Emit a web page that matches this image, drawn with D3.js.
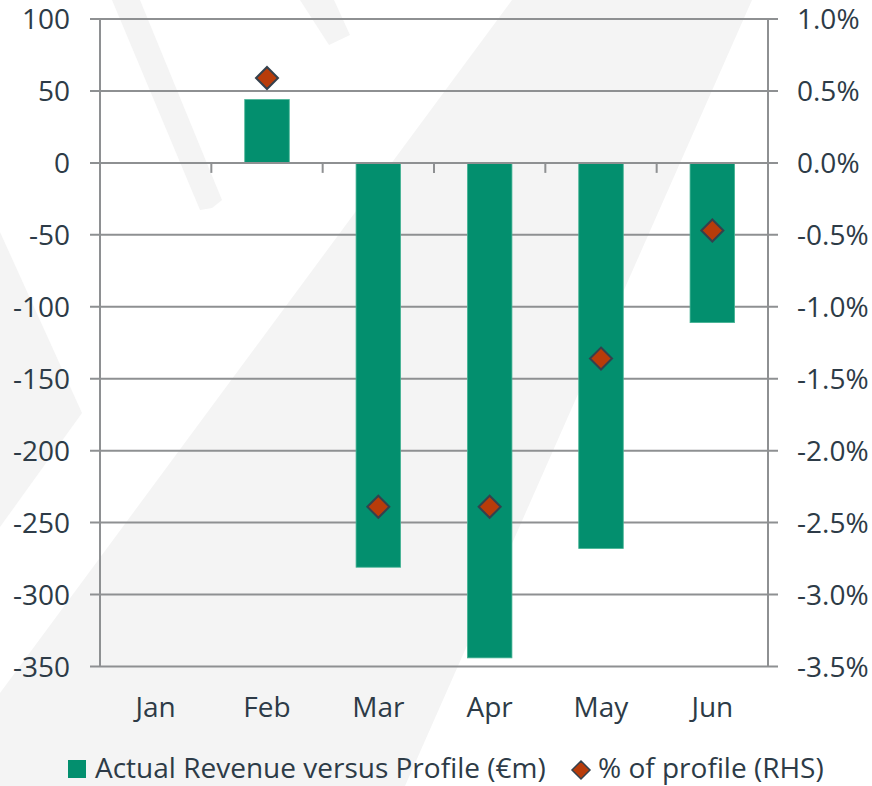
<!DOCTYPE html>
<html>
<head>
<meta charset="utf-8">
<script src="https://cdn.jsdelivr.net/npm/d3@7"></script>
<style>
  html, body { margin: 0; padding: 0; background: #ffffff; }
  svg { display: block; }
  text { font-family: "Open Sans", Lato, sans-serif; fill: #2d3b47; }
</style>
</head>
<body>
<div id="chart"></div>
<script>
// ---- data ----
const months = ["Jan", "Feb", "Mar", "Apr", "May", "Jun"];
const revenue = [null, 44, -281, -344, -268, -111];          // € m (LHS)
const pctProfile = [null, 0.59, -2.39, -2.39, -1.36, -0.47];  // % (RHS)
const leftTicks = [100, 50, 0, -50, -100, -150, -200, -250, -300, -350];
const rightTicks = [1.0, 0.5, 0.0, -0.5, -1.0, -1.5, -2.0, -2.5, -3.0, -3.5];
const legendLabels = ["Actual Revenue versus Profile (€m)", "% of profile (RHS)"];

// ---- layout ----
const W = 872, H = 786;
const plot = { left: 100, right: 768, top: 19, bottom: 666.5 };
const barColor = "#038f6e";
const diamondFill = "#b83c0a";
const diamondStroke = "#34414d";
const gridColor = "#8e9092";
const fontSize = 28;

const svg = d3.select("#chart").append("svg")
  .attr("width", W).attr("height", H);

// ---- watermark background ----
const wm = svg.append("g").attr("fill", "#f4f4f4");
const shapes = [
  [[512, 0], [752, 0], [405, 786], [0, 786], [0, 693]],
  [[0, 232], [82, 413], [0, 527]],
  [[112, 0], [140, 0], [222, 200], [212, 208], [200, 210]],
  [[300, 0], [334, 0], [350, 35], [329, 45]]
];
shapes.forEach(p => wm.append("polygon").attr("points", p.map(d => d.join(",")).join(" ")));

// ---- scales ----
const x = d3.scaleBand().domain(months).range([plot.left, plot.right]).padding(0);
const y = d3.scaleLinear().domain([-350, 100]).range([plot.bottom, plot.top]);
const y2 = d3.scaleLinear().domain([-3.5, 1.0]).range([plot.bottom, plot.top]);

// ---- gridlines (behind bars) ----
const grid = svg.append("g");
grid.selectAll("line").data(leftTicks.filter(d => d !== 0)).enter().append("line")
  .attr("x1", plot.left - 10).attr("x2", plot.right + 10)
  .attr("y1", d => y(d)).attr("y2", d => y(d))
  .attr("stroke", gridColor).attr("stroke-width", 2);

// vertical axis lines
svg.append("line").attr("x1", plot.left).attr("x2", plot.left)
  .attr("y1", plot.top).attr("y2", plot.bottom)
  .attr("stroke", gridColor).attr("stroke-width", 2);
svg.append("line").attr("x1", plot.right).attr("x2", plot.right)
  .attr("y1", plot.top).attr("y2", plot.bottom)
  .attr("stroke", gridColor).attr("stroke-width", 2);

// ---- bars ----
const bw = x.bandwidth() * 0.4;
const data = months.map((m, i) => ({ m, v: revenue[i], p: pctProfile[i] }));
svg.append("g").selectAll("rect").data(data.filter(d => d.v !== null)).enter().append("rect")
  .attr("x", d => x(d.m) + x.bandwidth() / 2 - bw / 2)
  .attr("width", bw)
  .attr("y", d => y(Math.max(0, d.v)))
  .attr("height", d => Math.abs(y(d.v) - y(0)))
  .attr("fill", barColor)
  .attr("stroke", "#46b394").attr("stroke-width", 0.8);

// ---- zero (category) axis on top ----
svg.append("line").attr("x1", plot.left - 10).attr("x2", plot.right + 10)
  .attr("y1", y(0)).attr("y2", y(0))
  .attr("stroke", gridColor).attr("stroke-width", 2);
const catTicks = months.map(m => x(m)).concat([plot.right]);
svg.append("g").selectAll("line").data(catTicks).enter().append("line")
  .attr("x1", d => d).attr("x2", d => d)
  .attr("y1", y(0)).attr("y2", y(0) + 10)
  .attr("stroke", gridColor).attr("stroke-width", 2);

// ---- diamonds ----
const dsz = 11;
svg.append("g").selectAll("path").data(data.filter(d => d.p !== null)).enter().append("path")
  .attr("d", d => {
    const cx = x(d.m) + x.bandwidth() / 2, cy = y2(d.p);
    return `M${cx},${cy - dsz}L${cx + dsz},${cy}L${cx},${cy + dsz}L${cx - dsz},${cy}Z`;
  })
  .attr("fill", diamondFill).attr("stroke", diamondStroke).attr("stroke-width", 2);

// ---- tick labels ----
svg.append("g").selectAll("text").data(leftTicks).enter().append("text")
  .attr("x", 70).attr("y", d => y(d)).attr("dy", "0.36em")
  .attr("text-anchor", "end").attr("font-size", fontSize)
  .text(d => String(d));
svg.append("g").selectAll("text").data(rightTicks).enter().append("text")
  .attr("x", 797).attr("y", d => y2(d)).attr("dy", "0.36em")
  .attr("text-anchor", "start").attr("font-size", fontSize)
  .text(d => d.toFixed(1) + "%");
svg.append("g").selectAll("text").data(months).enter().append("text")
  .attr("x", d => x(d) + x.bandwidth() / 2).attr("y", 717)
  .attr("text-anchor", "middle").attr("font-size", fontSize)
  .text(d => d);

// ---- legend ----
const lg = svg.append("g");
lg.append("rect").attr("x", 68).attr("y", 760).attr("width", 18).attr("height", 18).attr("fill", barColor);
lg.append("text").attr("x", 95).attr("y", 778).attr("font-size", fontSize).text(legendLabels[0]);
lg.append("path").attr("d", "M581,761L590,770L581,779L572,770Z")
  .attr("fill", diamondFill).attr("stroke", diamondStroke).attr("stroke-width", 1.5);
lg.append("text").attr("x", 598).attr("y", 778).attr("font-size", fontSize).text(legendLabels[1]);
</script>
</body>
</html>
